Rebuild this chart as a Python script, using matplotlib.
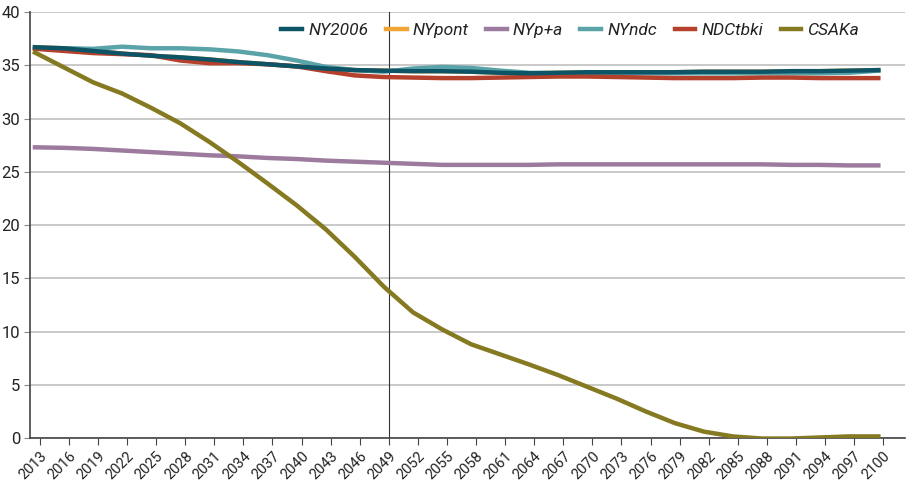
import numpy as np
import matplotlib.pyplot as plt

years = list(range(2013, 2101, 3))

ny2006 = [36.7, 36.6, 36.35, 36.1, 35.9, 35.75, 35.55, 35.3, 35.1, 34.9,
          34.7, 34.55, 34.5, 34.45, 34.45, 34.4, 34.3, 34.25, 34.3, 34.35,
          34.35, 34.35, 34.35, 34.4, 34.4, 34.4, 34.45, 34.45, 34.5, 34.55]
nypont = [36.7, 36.6, 36.35, 36.1, 35.9, 35.75, 35.55, 35.3, 35.1, 34.9,
          34.7, 34.55, 34.5, 34.45, 34.45, 34.4, 34.3, 34.25, 34.3, 34.35,
          34.35, 34.35, 34.35, 34.4, 34.4, 34.4, 34.45, 34.45, 34.5, 34.55]
nypa = [27.3, 27.25, 27.15, 27.0, 26.85, 26.7, 26.55, 26.45, 26.3, 26.2,
        26.05, 25.95, 25.85, 25.75, 25.65, 25.65, 25.65, 25.65, 25.7, 25.7,
        25.7, 25.7, 25.7, 25.7, 25.7, 25.7, 25.65, 25.65, 25.6, 25.6]
nyndc = [36.6, 36.6, 36.55, 36.75, 36.6, 36.6, 36.5, 36.3, 35.95, 35.45,
         34.85, 34.55, 34.4, 34.7, 34.85, 34.75, 34.5, 34.3, 34.25, 34.25,
         34.25, 34.25, 34.25, 34.25, 34.25, 34.25, 34.25, 34.25, 34.3, 34.5]
ndctbki = [36.55, 36.35, 36.15, 36.05, 35.95, 35.45, 35.2, 35.2, 35.1, 34.9,
           34.45, 34.05, 33.9, 33.85, 33.8, 33.8, 33.85, 33.9, 33.95, 33.95,
           33.9, 33.85, 33.8, 33.8, 33.8, 33.85, 33.85, 33.8, 33.8, 33.8]
csaka = [36.2, 34.8, 33.4, 32.35, 31.0, 29.55, 27.8, 25.9, 23.9, 21.85,
         19.6, 17.0, 14.2, 11.8, 10.2, 8.8, 7.85, 6.9, 5.9, 4.8,
         3.7, 2.5, 1.4, 0.6, 0.15, -0.05, -0.05, 0.05, 0.15, 0.15]

tick_years = list(range(2013, 2098, 3)) + [2100]

plt.rcParams['font.family'] = ['Roboto', 'DejaVu Sans']

fig = plt.figure(figsize=(9.1, 4.87), dpi=100)
ax = fig.add_axes([0.033, 0.1006, 0.962, 0.8746])

lw = 3.2
ax.plot(years, nypont, color='#f0a535', lw=lw, label='NYpont', zorder=2)
ax.plot(years, nypa, color='#9c7b9e', lw=lw, label='NYp+a', zorder=3)
ax.plot(years, nyndc, color='#5aa3a8', lw=lw, label='NYndc', zorder=3)
ax.plot(years, ndctbki, color='#b5402c', lw=lw, label='NDCtbki', zorder=3)
ax.plot(years, csaka, color='#857a22', lw=lw, label='CSAKa', zorder=3)
ax.plot(years, ny2006, color='#0d5566', lw=lw, label='NY2006', zorder=4)

ax.axvline(2049.5, color='#333333', lw=0.8, zorder=1)

ax.set_xlim(2012.49, 2102.8)
ax.set_ylim(0, 40)
ax.set_yticks(np.arange(0, 41, 5))
ax.set_xticks([y + 0.5 for y in tick_years])
ax.set_xticklabels([str(y) for y in tick_years], rotation=45, ha='right',
                   va='top', rotation_mode='anchor')
ax.tick_params(axis='x', length=5, color='#444444', labelsize=10.5, pad=3,
               labelcolor='#222222')
ax.tick_params(axis='y', length=4, color='#888888', labelsize=12, pad=3,
               labelcolor='#222222')
ax.grid(axis='y', color='#c0c0c0', lw=1.2)
ax.set_axisbelow(True)
for s in ['top', 'right']:
    ax.spines[s].set_visible(False)
ax.spines['left'].set_color('#444444')
ax.spines['bottom'].set_color('#444444')
ax.spines['left'].set_linewidth(1.2)
ax.spines['bottom'].set_linewidth(1.2)

handles, labels = ax.get_legend_handles_labels()
order = ['NY2006', 'NYpont', 'NYp+a', 'NYndc', 'NDCtbki', 'CSAKa']
h = [handles[labels.index(o)] for o in order]
leg = ax.legend(h, order, ncol=6, loc='upper right', bbox_to_anchor=(0.965, 1.012),
                frameon=False, prop={'style': 'italic', 'size': 12.5},
                handlelength=1.2, columnspacing=1.0, handletextpad=0.35)
for t in leg.get_texts():
    t.set_color('#222222')

fig.savefig('out.png', dpi=100)
